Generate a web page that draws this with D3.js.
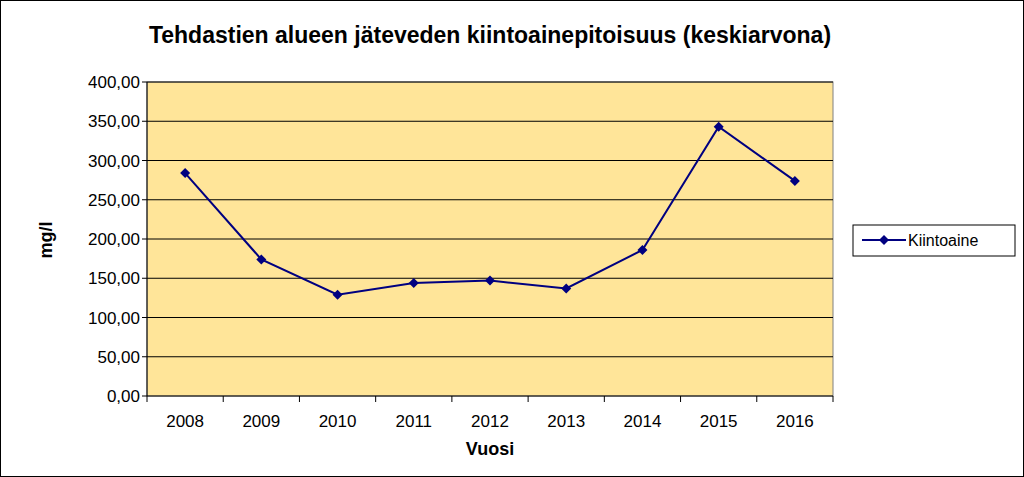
<!DOCTYPE html>
<html><head><meta charset="utf-8">
<script src="https://cdn.jsdelivr.net/npm/d3@7"></script>
<style>body{margin:0;background:#fff}svg{display:block}text{font-family:"Liberation Sans",Arial,sans-serif}</style>
</head><body><svg id="c" width="1024" height="477"></svg>
<script>
const years=["2008","2009","2010","2011","2012","2013","2014","2015","2016"];
const values=[284,174,129,144,147,137,186,343,274];
const yTicks=[0,50,100,150,200,250,300,350,400];
const seriesName="Kiintoaine";
const svg=d3.select("#c");
svg.append("rect").attr("x",0.5).attr("y",0.5).attr("width",1023).attr("height",476).attr("fill","#fff").attr("stroke","#000");
const L=147,R=833,T=82,B=396;
const x=d3.scaleBand().domain(years).range([L,R]);
const y=d3.scaleLinear().domain([0,400]).range([B,T]);
svg.append("rect").attr("x",L).attr("y",T).attr("width",R-L).attr("height",B-T).attr("fill","#FFE599").attr("stroke","#808080");
svg.selectAll(".g").data(yTicks.slice(1)).join("line").attr("x1",L).attr("x2",R).attr("y1",d=>y(d)).attr("y2",d=>y(d)).attr("stroke","#000");
svg.append("line").attr("x1",L).attr("x2",L).attr("y1",T).attr("y2",B).attr("stroke","#000");
svg.append("line").attr("x1",L).attr("x2",R).attr("y1",B).attr("y2",B).attr("stroke","#000");
svg.selectAll(".yt").data(yTicks).join("line").attr("x1",L-5).attr("x2",L).attr("y1",d=>y(d)).attr("y2",d=>y(d)).attr("stroke","#000");
svg.selectAll(".yl").data(yTicks).join("text").attr("x",L-7).attr("y",d=>y(d)+6).attr("text-anchor","end").attr("font-size",17)
 .text(d=>d.toFixed(2).replace(".",","));
const xt=years.map(v=>x(v)).concat([R]);
svg.selectAll(".xt").data(xt).join("line").attr("x1",d=>d).attr("x2",d=>d).attr("y1",B).attr("y2",B+6).attr("stroke","#000");
svg.selectAll(".xl").data(years).join("text").attr("x",d=>x(d)+x.bandwidth()/2).attr("y",B+31).attr("text-anchor","middle").attr("font-size",17).text(d=>d);
svg.append("text").attr("x",490).attr("y",455).attr("text-anchor","middle").attr("font-size",18).attr("font-weight","bold").text("Vuosi");
svg.append("text").attr("transform","translate(52,240) rotate(-90)").attr("text-anchor","middle").attr("font-size",18).attr("font-weight","bold").text("mg/l");
svg.append("text").attr("x",490).attr("y",43).attr("text-anchor","middle").attr("font-size",23).attr("font-weight","bold").text("Tehdastien alueen jäteveden kiintoainepitoisuus (keskiarvona)");
const line=d3.line().x((d,i)=>x(years[i])+x.bandwidth()/2).y(d=>y(d));
svg.append("path").attr("d",line(values)).attr("fill","none").attr("stroke","#000080").attr("stroke-width",2);
const sym=d3.symbol().type(d3.symbolSquare).size(50);
svg.selectAll(".m").data(values).join("path").attr("d",sym).attr("fill","#000080")
 .attr("transform",(d,i)=>`translate(${x(years[i])+x.bandwidth()/2},${y(d)}) rotate(45)`);
svg.append("rect").attr("x",853).attr("y",225).attr("width",162).attr("height",31).attr("fill","#fff").attr("stroke","#000");
svg.append("line").attr("x1",862).attr("x2",906).attr("y1",240).attr("y2",240).attr("stroke","#000080").attr("stroke-width",2);
svg.append("path").attr("d",sym).attr("fill","#000080").attr("transform","translate(884,240) rotate(45)");
svg.append("text").attr("x",908).attr("y",246).attr("font-size",16).text(seriesName);
</script></body></html>
